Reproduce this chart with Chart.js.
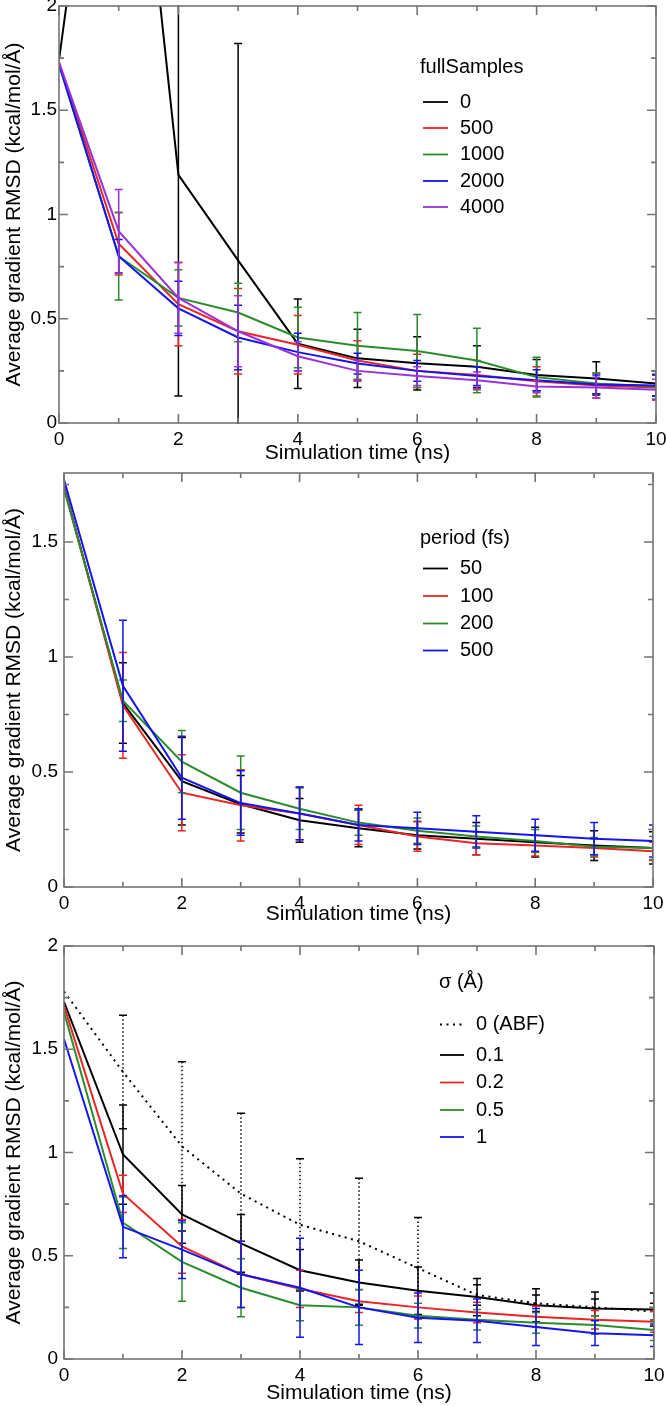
<!DOCTYPE html>
<html>
<head>
<meta charset="utf-8">
<script src="https://cdn.jsdelivr.net/npm/chart.js@4.4.1/dist/chart.umd.min.js"></script>
<style>
  body { margin: 0; background: #fff; }
  #wrap { position: relative; width: 666px; height: 1406px; }
  canvas { position: absolute; left: 0; }
</style>
</head>
<body>
<div id="wrap">
  <canvas id="c1" width="666" height="466" style="top:0px"></canvas>
  <canvas id="c2" width="666" height="460" style="top:466px"></canvas>
  <canvas id="c3" width="666" height="480" style="top:926px"></canvas>
</div>
<script>
// time axis (ns)
const timeNs = [0, 1, 2, 3, 4, 5, 6, 7, 8, 9, 10];
const xTickValues = [0, 2, 4, 6, 8, 10];
const xTickLabels = ["0", "2", "4", "6", "8", "10"];
const yTickValues = [0, 0.5, 1, 1.5, 2];
const yTickLabels = ["0", "0.5", "1", "1.5", "2"];

// panel 1 - fullSamples
const fullSamplesLabels = ["0", "500", "1000", "2000", "4000"];
const fs0 = [1.74, 3.87, 1.19, 0.78, 0.38, 0.31, 0.286, 0.27, 0.23, 0.214, 0.19];
const fs0Err = [0, 0.5, 1.06, 1.04, 0.215, 0.14, 0.128, 0.10, 0.075, 0.08, 0.06];
const fs500 = [1.73, 0.86, 0.57, 0.44, 0.375, 0.30, 0.25, 0.23, 0.20, 0.18, 0.17];
const fs500Err = [0, 0.15, 0.2, 0.205, 0.14, 0.095, 0.08, 0.07, 0.07, 0.06, 0.06];
const fs1000 = [1.72, 0.80, 0.60, 0.53, 0.41, 0.37, 0.345, 0.30, 0.22, 0.19, 0.175];
const fs1000Err = [0, 0.21, 0.135, 0.14, 0.145, 0.16, 0.175, 0.155, 0.095, 0.05, 0.06];
const fs2000 = [1.72, 0.80, 0.55, 0.41, 0.34, 0.285, 0.25, 0.225, 0.205, 0.185, 0.18];
const fs2000Err = [0, 0.08, 0.13, 0.155, 0.09, 0.05, 0.05, 0.045, 0.05, 0.045, 0.05];
const fs4000 = [1.73, 0.92, 0.60, 0.44, 0.32, 0.25, 0.225, 0.205, 0.175, 0.17, 0.16];
const fs4000Err = [0, 0.2, 0.17, 0.17, 0.07, 0.05, 0.045, 0.04, 0.03, 0.05, 0.05];

// panel 2 - period (fs)
const periodLabels = ["50", "100", "200", "500"];
const p50 = [1.74, 0.80, 0.46, 0.36, 0.29, 0.255, 0.225, 0.21, 0.195, 0.18, 0.17];
const p50Err = [0, 0.175, 0.19, 0.125, 0.095, 0.08, 0.06, 0.07, 0.065, 0.065, 0.07];
const p100 = [1.74, 0.79, 0.41, 0.355, 0.32, 0.27, 0.22, 0.19, 0.18, 0.17, 0.155];
const p100Err = [0, 0.23, 0.165, 0.155, 0.115, 0.085, 0.065, 0.05, 0.045, 0.04, 0.04];
const p200 = [1.73, 0.81, 0.545, 0.41, 0.34, 0.28, 0.245, 0.22, 0.20, 0.175, 0.17];
const p200Err = [0, 0.09, 0.135, 0.16, 0.09, 0.055, 0.055, 0.045, 0.05, 0.04, 0.05];
const p500 = [1.77, 0.875, 0.475, 0.365, 0.32, 0.27, 0.255, 0.24, 0.225, 0.21, 0.2];
const p500Err = [0, 0.285, 0.18, 0.14, 0.115, 0.07, 0.07, 0.07, 0.07, 0.07, 0.07];

// panel 3 - sigma
const sigmaLabels = ["0 (ABF)", "0.1", "0.2", "0.5", "1"];
const sAbf = [1.78, 1.39, 1.03, 0.80, 0.65, 0.57, 0.44, 0.31, 0.27, 0.25, 0.23];
const sAbfErr = [0, 0.275, 0.41, 0.39, 0.32, 0.305, 0.245, 0.05, 0.04, 0.04, 0.04];
const s01 = [1.73, 0.99, 0.70, 0.56, 0.43, 0.37, 0.33, 0.30, 0.26, 0.245, 0.24];
const s01Err = [0, 0.24, 0.14, 0.14, 0.10, 0.11, 0.115, 0.09, 0.08, 0.08, 0.08];
const s02 = [1.71, 0.80, 0.545, 0.41, 0.34, 0.28, 0.25, 0.225, 0.205, 0.19, 0.18];
const s02Err = [0, 0.09, 0.13, 0.16, 0.09, 0.055, 0.055, 0.05, 0.05, 0.045, 0.05];
const s05 = [1.68, 0.66, 0.47, 0.345, 0.26, 0.25, 0.21, 0.19, 0.175, 0.165, 0.14];
const s05Err = [0, 0.125, 0.19, 0.14, 0.075, 0.087, 0.06, 0.05, 0.05, 0.045, 0.05];
const s1 = [1.55, 0.64, 0.53, 0.41, 0.345, 0.25, 0.20, 0.185, 0.155, 0.125, 0.115];
const s1Err = [0, 0.15, 0.14, 0.16, 0.24, 0.18, 0.12, 0.105, 0.09, 0.06, 0.055];

const BLACK = "#000000", RED = "#ec2424", GREEN = "#2a8c2a", BLUE = "#1414f0", PURPLE = "#9a32dc";
const FONT = '"Liberation Sans", Arial, Helvetica, sans-serif';
const FRAME = "#747474";

Chart.defaults.font.family = FONT;
Chart.defaults.color = "#000";

function series(label, vals, errs, color, dashed) {
    return {
        label: label,
        data: timeNs.map((t, i) => ({ x: t, y: vals[i] })),
        errors: errs,
        borderColor: color,
        borderWidth: 2,
        borderDash: dashed ? [2, 4.5] : [],
        pointRadius: 0,
        tension: 0,
        fill: false
    };
}

// frame, inward ticks, error bars and legend, xmgrace style
const graceStyle = {
    id: "graceStyle",
    afterDatasetDraw(chart, args) {
        let ds = chart.data.datasets[args.index];
        if (!ds.errors) return;
        let ctx = chart.ctx, a = chart.chartArea;
        let xs = chart.scales.x, ys = chart.scales.y;
        ctx.save();
        ctx.beginPath();
        ctx.rect(a.left, a.top - 1, a.right - a.left, a.bottom - a.top + 2);
        ctx.clip();
        ctx.strokeStyle = ds.borderColor;
        ctx.lineWidth = 1.5;
        ds.data.forEach((p, i) => {
            let e = ds.errors[i];
            if (!e) return;
            let x = xs.getPixelForValue(p.x);
            let yTop = ys.getPixelForValue(p.y + e);
            let yBot = ys.getPixelForValue(p.y - e);
            ctx.setLineDash(ds.borderDash.length ? [1.5, 2.5] : []);
            ctx.beginPath();
            ctx.moveTo(x, yTop);
            ctx.lineTo(x, yBot);
            ctx.stroke();
            ctx.setLineDash([]);
            ctx.beginPath();
            ctx.moveTo(x - 4, yTop); ctx.lineTo(x + 4, yTop);
            ctx.moveTo(x - 4, yBot); ctx.lineTo(x + 4, yBot);
            ctx.stroke();
        });
        ctx.restore();
    },
    afterDraw(chart, args, opts) {
        let ctx = chart.ctx, a = chart.chartArea;
        let xs = chart.scales.x, ys = chart.scales.y;
        ctx.save();
        ctx.strokeStyle = FRAME;
        ctx.lineWidth = 1.6;
        ctx.strokeRect(a.left, a.top, a.right - a.left, a.bottom - a.top);
        ctx.beginPath();
        for (let v = xs.min; v <= xs.max + 1e-9; v += 1) {
            let x = xs.getPixelForValue(v);
            let len = (v % 2 === 0) ? 9 : 5;
            ctx.moveTo(x, a.bottom); ctx.lineTo(x, a.bottom - len);
            ctx.moveTo(x, a.top); ctx.lineTo(x, a.top + len);
        }
        for (let v = 0; v <= ys.max + 1e-9; v += 0.25) {
            let y = ys.getPixelForValue(v);
            let len = (Math.abs(v * 2 - Math.round(v * 2)) < 1e-6) ? 9 : 5;
            ctx.moveTo(a.left, y); ctx.lineTo(a.left + len, y);
            ctx.moveTo(a.right, y); ctx.lineTo(a.right - len, y);
        }
        ctx.stroke();

        // legend
        let lg = opts.legend;
        ctx.fillStyle = "#000";
        ctx.font = "20px " + FONT;
        ctx.textBaseline = "middle";
        ctx.textAlign = "left";
        ctx.fillText(lg.title, lg.titleX, lg.titleY);
        chart.data.datasets.forEach((ds, i) => {
            let y = lg.rows[i];
            ctx.strokeStyle = ds.borderColor;
            ctx.lineWidth = 1.8;
            ctx.setLineDash(ds.borderDash);
            ctx.beginPath();
            ctx.moveTo(lg.lineX0, y);
            ctx.lineTo(lg.lineX1, y);
            ctx.stroke();
            ctx.setLineDash([]);
            ctx.fillText(ds.label, lg.textX, y);
        });
        ctx.restore();
    }
};

function makeChart(id, datasets, yMax, area, titleBottom, yPad, legend) {
    let canvas = document.getElementById(id);
    let W = canvas.width, H = canvas.height;
    // first dataset at the bottom, like xmgrace
    datasets.forEach((ds, i) => { ds.order = datasets.length - i; });
    return new Chart(canvas.getContext("2d"), {
        type: "line",
        data: { datasets: datasets },
        plugins: [graceStyle],
        options: {
            responsive: false,
            animation: false,
            devicePixelRatio: 1,
            layout: { padding: { top: area.top, right: W - area.right, left: 0, bottom: 0 } },
            plugins: {
                legend: { display: false },
                tooltip: { enabled: false },
                graceStyle: { legend: legend }
            },
            scales: {
                x: {
                    type: "linear",
                    min: 0,
                    max: 10,
                    grid: { display: false, drawTicks: false },
                    border: { display: false },
                    afterBuildTicks: s => { s.ticks = xTickValues.map(v => ({ value: v })); },
                    afterFit: s => {
                        s.height = H - area.bottom;
                        s.paddingLeft = s.paddingRight = 0;
                    },
                    ticks: {
                        padding: 5,
                        maxRotation: 0,
                        font: { size: 19 },
                        callback: v => xTickLabels[xTickValues.indexOf(v)]
                    },
                    title: {
                        display: true,
                        text: "Simulation time (ns)",
                        font: { size: 21, lineHeight: 1 },
                        padding: { top: 0, bottom: titleBottom }
                    }
                },
                y: {
                    type: "linear",
                    min: 0,
                    max: yMax,
                    grid: { display: false, drawTicks: false },
                    border: { display: false },
                    afterBuildTicks: s => { s.ticks = yTickValues.filter(v => v <= yMax).map(v => ({ value: v })); },
                    afterFit: s => {
                        s.width = area.left;
                        s.paddingTop = s.paddingBottom = 0;
                    },
                    ticks: {
                        padding: yPad,
                        font: { size: 19 },
                        callback: v => yTickLabels[yTickValues.indexOf(v)]
                    },
                    title: {
                        display: true,
                        text: "Average gradient RMSD (kcal/mol/Å)",
                        font: { size: 21, lineHeight: 1 },
                        padding: { top: 4, bottom: 0 }
                    }
                }
            }
        }
    });
}

makeChart("c1", [
    series(fullSamplesLabels[0], fs0, fs0Err, BLACK),
    series(fullSamplesLabels[1], fs500, fs500Err, RED),
    series(fullSamplesLabels[2], fs1000, fs1000Err, GREEN),
    series(fullSamplesLabels[3], fs2000, fs2000Err, BLUE),
    series(fullSamplesLabels[4], fs4000, fs4000Err, PURPLE)
], 2, { left: 59, right: 656, top: 6, bottom: 423 }, 2, 2,
{ title: "fullSamples", titleX: 420, titleY: 67, lineX0: 423, lineX1: 448, textX: 460, rows: [102, 128, 154.5, 181, 207] });

makeChart("c2", [
    series(periodLabels[0], p50, p50Err, BLACK),
    series(periodLabels[1], p100, p100Err, RED),
    series(periodLabels[2], p200, p200Err, GREEN),
    series(periodLabels[3], p500, p500Err, BLUE)
], 1.8, { left: 64, right: 653, top: 7, bottom: 421 }, 1, 6,
{ title: "period (fs)", titleX: 420, titleY: 72, lineX0: 423, lineX1: 448, textX: 460, rows: [102.5, 130, 157.5, 184.5] });

makeChart("c3", [
    series(sigmaLabels[0], sAbf, sAbfErr, BLACK, true),
    series(sigmaLabels[1], s01, s01Err, BLACK),
    series(sigmaLabels[2], s02, s02Err, RED),
    series(sigmaLabels[3], s05, s05Err, GREEN),
    series(sigmaLabels[4], s1, s1Err, BLUE)
], 2, { left: 64, right: 654, top: 20, bottom: 433 }, 2, 6,
{ title: "σ (Å)", titleX: 439, titleY: 56, lineX0: 440, lineX1: 464, textX: 476, rows: [98.5, 129, 156.5, 184, 211] });
</script>
</body>
</html>
